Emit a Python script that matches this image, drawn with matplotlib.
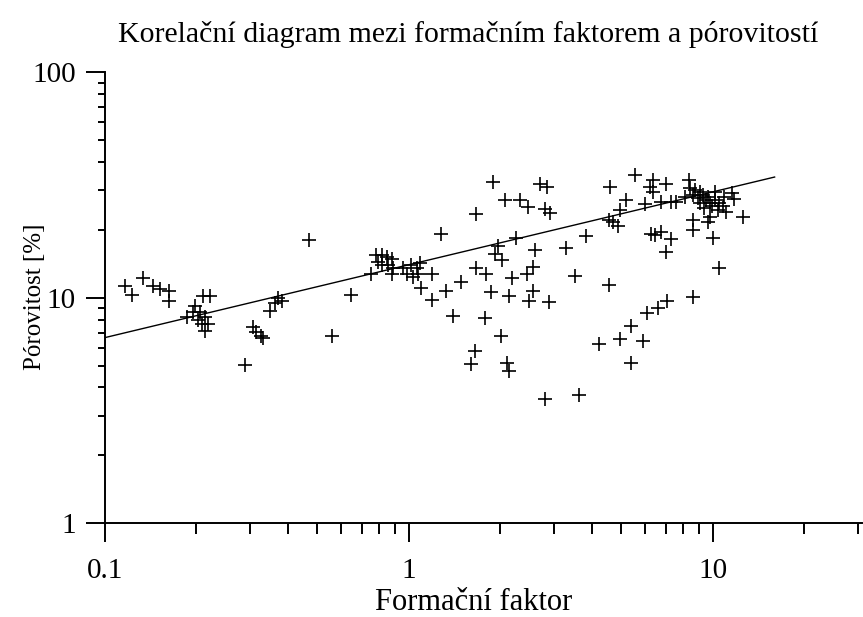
import numpy as np
import matplotlib
matplotlib.use('Agg')
import matplotlib.pyplot as plt
from matplotlib.ticker import LogLocator, FixedLocator, NullFormatter

# Formační faktor (x) and pórovitost in % (y)
formacni_faktor = [
    0.116, 0.123, 0.133, 0.144, 0.152, 0.162, 0.162,
    0.210, 0.221, 0.198, 0.195, 0.186, 0.205, 0.203, 0.213, 0.208, 0.219, 0.213,
    0.289, 0.306, 0.315, 0.325, 0.331, 0.349, 0.362, 0.372, 0.381,
    0.470, 0.557, 0.644,
    0.753, 0.778, 0.813, 0.845, 0.877, 0.793, 0.813, 0.853, 0.885, 0.955,
    1.02, 1.06, 1.09, 0.877, 0.99, 1.03, 1.07, 1.10,
    1.19, 1.19, 1.28, 1.33, 1.49, 1.40,
    1.67, 1.67, 1.80, 1.87, 1.78, 1.65, 1.60, 1.89,
    1.97, 1.92, 2.02, 2.07, 2.14, 2.18, 2.01, 2.10, 2.14,
    2.26, 2.32, 2.47, 2.44, 2.56, 2.60, 2.56, 2.49,
    2.70, 2.84, 2.80, 2.91, 2.89, 2.80,
    3.30, 3.52, 3.63, 3.84, 4.23,
    4.58, 4.56, 4.55, 4.70, 4.88, 4.94, 5.17, 4.97, 5.37, 5.90, 5.37,
    5.56, 6.36, 7.04, 6.21, 6.36, 5.97, 6.78, 7.31, 7.60,
    6.29, 6.45, 6.78, 7.31, 7.00, 8.09,
    8.61, 7.07, 6.61, 6.08, 10.5, 10.0, 8.6, 8.6, 12.6, 9.63, 9.78,
    8.34, 10.2, 10.9, 11.6, 11.8, 10.8, 11.1, 10.4,
    8.40, 8.73, 9.06, 8.6, 8.93, 9.27, 9.48, 9.78, 9.06, 9.63, 9.93,
    10.2, 10.5, 9.4,
]
porovitost = [
    11.3, 10.3, 12.2, 11.3, 10.9, 10.7, 9.7,
    10.2, 10.2, 9.2, 8.6, 8.2, 8.6, 8.0, 8.2, 7.64, 7.64, 7.13,
    5.04, 7.43, 7.06, 6.78, 6.64, 8.75, 9.43, 9.97, 9.7,
    18.0, 6.73, 10.3,
    12.7, 15.4, 15.4, 15.1, 14.9, 14.35, 13.9, 13.9, 13.6, 13.6,
    13.9, 13.5, 14.2, 12.7, 12.7, 12.3, 12.7, 11.0,
    12.7, 9.8, 19.2, 10.7, 11.7, 8.32,
    23.5, 13.5, 12.7, 10.6, 8.15, 5.81, 5.07, 32.5,
    17.0, 15.6, 14.7, 27.2, 10.2, 12.2, 6.73, 5.16, 4.74,
    18.4, 27.0, 25.2, 12.7, 13.7, 16.3, 10.7, 9.7,
    32.0, 30.9, 24.8, 23.7, 9.53, 3.55,
    16.6, 12.5, 3.71, 18.7, 6.23,
    30.9, 11.4, 22.2, 21.6, 20.9, 24.5, 27.0, 6.59, 7.46, 6.44, 5.16,
    34.9, 33.1, 32.0, 30.9, 29.4, 26.1, 26.5, 26.5, 26.5,
    19.2, 18.9, 19.5, 18.2, 15.9, 27.9,
    10.1, 9.7, 9.0, 8.55, 13.5, 18.4, 19.9, 22.0, 22.7, 21.6, 22.7,
    33.1, 29.4, 27.9, 29.0, 27.5, 25.6, 23.9, 24.4,
    30.5, 29.9, 29.3, 28.4, 27.8, 28.4, 27.0, 26.2, 26.4, 28.1, 25.4,
    27.0, 26.4, 24.9,
]

# regression line  y = a * x^b
fit_a = 14.0
fit_b = 0.323
fit_range = [0.1, 16.0]

x_major = [0.1, 1, 10]
x_labels = ['0.1', '1', '10']
y_major = [1, 10, 100]
y_labels = ['1', '10', '100']

plt.rcParams['font.family'] = ['Liberation Serif', 'DejaVu Serif']

fig = plt.figure(figsize=(8.63, 6.17), dpi=100)
ax = fig.add_axes([0.1217, 0.152, 0.877, 0.731])

ax.plot(formacni_faktor, porovitost, '+', color='k', ms=9.8, mew=1.2)

xf = np.array(fit_range)
ax.plot(xf, fit_a * xf ** fit_b, color='k', lw=1.0)

ax.set_xscale('log')
ax.set_yscale('log')
ax.set_xlim(0.1, 31)
ax.set_ylim(1, 100)

ax.xaxis.set_major_locator(FixedLocator(x_major))
ax.set_xticklabels(x_labels)
ax.yaxis.set_major_locator(FixedLocator(y_major))
ax.set_yticklabels(y_labels)
ax.xaxis.set_minor_locator(LogLocator(base=10, subs=np.arange(2, 10)))
ax.yaxis.set_minor_locator(LogLocator(base=10, subs=np.arange(2, 10)))
ax.xaxis.set_minor_formatter(NullFormatter())
ax.yaxis.set_minor_formatter(NullFormatter())

for s in ['top', 'right']:
    ax.spines[s].set_visible(False)
for s in ['left', 'bottom']:
    ax.spines[s].set_linewidth(1.4)

ax.tick_params(axis='x', which='major', length=14, width=1.4, pad=11, labelsize=21)
ax.tick_params(axis='x', which='minor', length=8, width=1.4)
ax.tick_params(axis='y', which='major', length=14, width=1.4, pad=7, labelsize=21)
ax.tick_params(axis='y', which='minor', length=5, width=1.4)

fig.text(35 / 863, 1 - 297 / 617, 'Pórovitost [%]', rotation=90,
         ha='center', va='center', fontsize=18)
fig.text(474 / 863, 7 / 617, 'Formační faktor', ha='center', va='baseline',
         fontsize=22)
fig.text(468 / 863, 1 - 42 / 617,
         'Korelační diagram mezi formačním faktorem a pórovitostí',
         ha='center', va='baseline', fontsize=21.5)

fig.savefig('out.png', dpi=100)
